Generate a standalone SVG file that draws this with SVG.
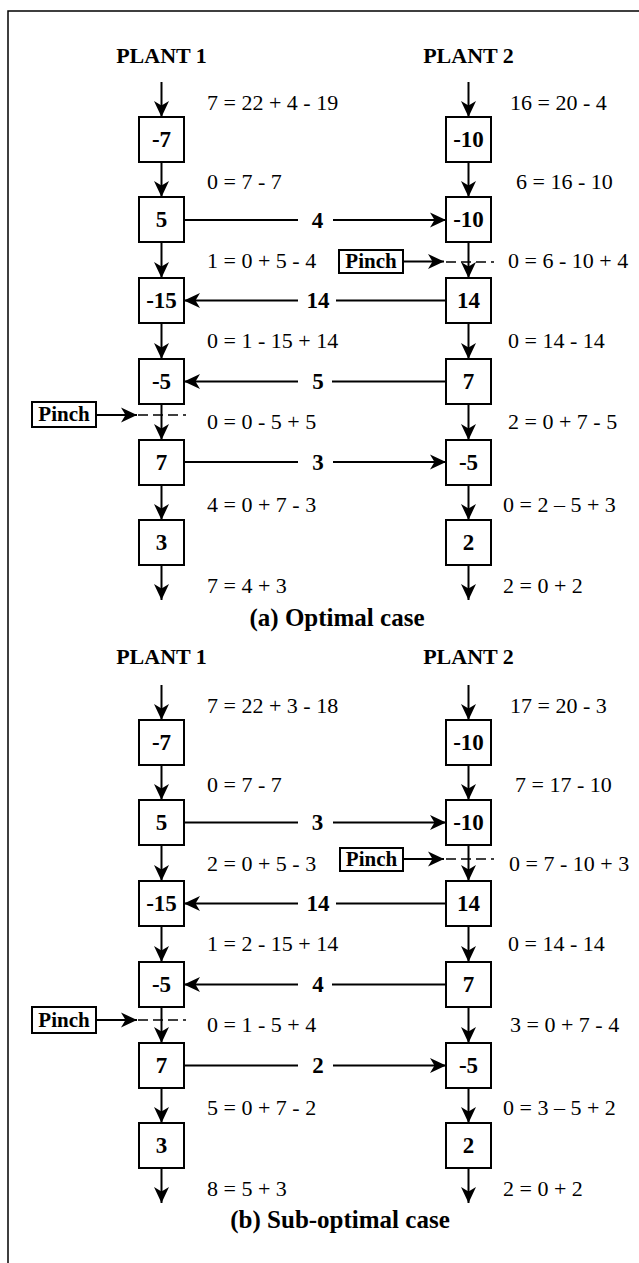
<svg xmlns="http://www.w3.org/2000/svg" width="639" height="1263" viewBox="0 0 639 1263">
<style>
.box{fill:#fff;stroke:#000;stroke-width:2}
.num{font-family:"Liberation Serif",serif;font-weight:bold;font-size:23px;text-anchor:middle;fill:#000}
.eq{font-family:"Liberation Serif",serif;font-size:22px;fill:#000}
.ttl{font-family:"Liberation Serif",serif;font-weight:bold;font-size:22px;text-anchor:middle;fill:#000}
.cap{font-family:"Liberation Serif",serif;font-weight:bold;font-size:25px;text-anchor:middle;fill:#000}
.pin{font-family:"Liberation Serif",serif;font-weight:bold;font-size:21px;text-anchor:middle;fill:#000}
.ln{stroke:#000;stroke-width:2;fill:none}
.arr{stroke:#000;stroke-width:2;fill:none;marker-end:url(#ah)}
.dash{stroke:#000;stroke-width:1.5;fill:none;stroke-dasharray:10 5}
.frame{stroke:#000;stroke-width:1.5;fill:none}
</style>
<defs>
<marker id="ah" viewBox="0 0 16 16" refX="16" refY="8" markerWidth="16" markerHeight="16" markerUnits="userSpaceOnUse" orient="auto">
<path d="M16,8 L0,0.5 L4.5,8 L0,15.5 Z" fill="#000"/>
</marker>
</defs>
<path class="frame" d="M639,11 H8 V1263"/>

<!-- titles -->
<text class="ttl" x="161.5" y="63">PLANT 1</text>
<text class="ttl" x="468.5" y="63">PLANT 2</text>
<text class="ttl" x="161.5" y="664">PLANT 1</text>
<text class="ttl" x="468.5" y="664">PLANT 2</text>
<text class="cap" x="337" y="626">(a) Optimal case</text>
<text class="cap" x="340" y="1228">(b) Sub-optimal case</text>

<!-- Panel (a) nodes -->
<g id="a-p1-n1"><rect class="box" x="139" y="117" width="45" height="45"/><text class="num" x="161.5" y="147">-7</text></g>
<g id="a-p1-n2"><rect class="box" x="139" y="197" width="45" height="45"/><text class="num" x="161.5" y="227">5</text></g>
<g id="a-p1-n3"><rect class="box" x="139" y="278" width="45" height="45"/><text class="num" x="161.5" y="308">-15</text></g>
<g id="a-p1-n4"><rect class="box" x="139" y="359" width="45" height="45"/><text class="num" x="161.5" y="389">-5</text></g>
<g id="a-p1-n5"><rect class="box" x="139" y="440" width="45" height="45"/><text class="num" x="161.5" y="470">7</text></g>
<g id="a-p1-n6"><rect class="box" x="139" y="520" width="45" height="45"/><text class="num" x="161.5" y="550">3</text></g>
<g id="a-p2-n1"><rect class="box" x="446" y="117" width="45" height="45"/><text class="num" x="468.5" y="147">-10</text></g>
<g id="a-p2-n2"><rect class="box" x="446" y="197" width="45" height="45"/><text class="num" x="468.5" y="227">-10</text></g>
<g id="a-p2-n3"><rect class="box" x="446" y="278" width="45" height="45"/><text class="num" x="468.5" y="308">14</text></g>
<g id="a-p2-n4"><rect class="box" x="446" y="359" width="45" height="45"/><text class="num" x="468.5" y="389">7</text></g>
<g id="a-p2-n5"><rect class="box" x="446" y="440" width="45" height="45"/><text class="num" x="468.5" y="470">-5</text></g>
<g id="a-p2-n6"><rect class="box" x="446" y="520" width="45" height="45"/><text class="num" x="468.5" y="550">2</text></g>
<g id="a-pinch1"><rect class="box" x="32" y="402" width="64" height="25"/><text class="pin" x="64" y="421">Pinch</text></g>
<g id="a-pinch2"><rect class="box" x="339" y="250" width="64" height="23"/><text class="pin" x="371" y="268">Pinch</text></g>

<!-- Panel (b) nodes -->
<g id="b-p1-n1"><rect class="box" x="139" y="720" width="45" height="45"/><text class="num" x="161.5" y="750">-7</text></g>
<g id="b-p1-n2"><rect class="box" x="139" y="800" width="45" height="45"/><text class="num" x="161.5" y="830">5</text></g>
<g id="b-p1-n3"><rect class="box" x="139" y="881" width="45" height="45"/><text class="num" x="161.5" y="911">-15</text></g>
<g id="b-p1-n4"><rect class="box" x="139" y="962" width="45" height="45"/><text class="num" x="161.5" y="992">-5</text></g>
<g id="b-p1-n5"><rect class="box" x="139" y="1043" width="45" height="45"/><text class="num" x="161.5" y="1073">7</text></g>
<g id="b-p1-n6"><rect class="box" x="139" y="1123" width="45" height="45"/><text class="num" x="161.5" y="1153">3</text></g>
<g id="b-p2-n1"><rect class="box" x="446" y="720" width="45" height="45"/><text class="num" x="468.5" y="750">-10</text></g>
<g id="b-p2-n2"><rect class="box" x="446" y="800" width="45" height="45"/><text class="num" x="468.5" y="830">-10</text></g>
<g id="b-p2-n3"><rect class="box" x="446" y="881" width="45" height="45"/><text class="num" x="468.5" y="911">14</text></g>
<g id="b-p2-n4"><rect class="box" x="446" y="962" width="45" height="45"/><text class="num" x="468.5" y="992">7</text></g>
<g id="b-p2-n5"><rect class="box" x="446" y="1043" width="45" height="45"/><text class="num" x="468.5" y="1073">-5</text></g>
<g id="b-p2-n6"><rect class="box" x="446" y="1123" width="45" height="45"/><text class="num" x="468.5" y="1153">2</text></g>
<g id="b-pinch1"><rect class="box" x="32" y="1007" width="64" height="26"/><text class="pin" x="64" y="1027">Pinch</text></g>
<g id="b-pinch2"><rect class="box" x="340" y="848" width="63" height="23"/><text class="pin" x="371.5" y="866">Pinch</text></g>

<!-- equations -->
<g id="equations">
<text class="eq" x="207" y="110">7 = 22 + 4 - 19</text>
<text class="eq" x="207" y="189">0 = 7 - 7</text>
<text class="eq" x="207" y="268">1 = 0 + 5 - 4</text>
<text class="eq" x="207" y="348">0 = 1 - 15 + 14</text>
<text class="eq" x="207" y="429">0 = 0 - 5 + 5</text>
<text class="eq" x="207" y="512">4 = 0 + 7 - 3</text>
<text class="eq" x="207" y="593">7 = 4 + 3</text>
<text class="eq" x="510" y="110">16 = 20 - 4</text>
<text class="eq" x="516" y="189">6 = 16 - 10</text>
<text class="eq" x="508" y="268">0 = 6 - 10 + 4</text>
<text class="eq" x="508" y="348">0 = 14 - 14</text>
<text class="eq" x="508" y="429">2 = 0 + 7 - 5</text>
<text class="eq" x="503" y="512">0 = 2 – 5 + 3</text>
<text class="eq" x="503" y="593">2 = 0 + 2</text>
<text class="eq" x="207" y="713">7 = 22 + 3 - 18</text>
<text class="eq" x="207" y="792">0 = 7 - 7</text>
<text class="eq" x="207" y="871">2 = 0 + 5 - 3</text>
<text class="eq" x="207" y="951">1 = 2 - 15 + 14</text>
<text class="eq" x="207" y="1032">0 = 1 - 5 + 4</text>
<text class="eq" x="207" y="1115">5 = 0 + 7 - 2</text>
<text class="eq" x="207" y="1196">8 = 5 + 3</text>
<text class="eq" x="510" y="713">17 = 20 - 3</text>
<text class="eq" x="515" y="792">7 = 17 - 10</text>
<text class="eq" x="509" y="871">0 = 7 - 10 + 3</text>
<text class="eq" x="508" y="951">0 = 14 - 14</text>
<text class="eq" x="510" y="1032">3 = 0 + 7 - 4</text>
<text class="eq" x="503" y="1115">0 = 3 – 5 + 2</text>
<text class="eq" x="503" y="1196">2 = 0 + 2</text>
</g>

<!-- connectors -->
<g id="connectors">
<!-- (a) vertical plant 1 -->
<path class="arr" d="M161.5,82 V117"/>
<path class="arr" d="M161.5,162 V197"/>
<path class="arr" d="M161.5,242 V278"/>
<path class="arr" d="M161.5,323 V359"/>
<path class="arr" d="M161.5,404 V440"/>
<path class="arr" d="M161.5,485 V520"/>
<path class="arr" d="M161.5,565 V600"/>
<!-- (a) vertical plant 2 -->
<path class="arr" d="M468.5,82 V117"/>
<path class="arr" d="M468.5,162 V197"/>
<path class="arr" d="M468.5,242 V278"/>
<path class="arr" d="M468.5,323 V359"/>
<path class="arr" d="M468.5,404 V440"/>
<path class="arr" d="M468.5,485 V520"/>
<path class="arr" d="M468.5,565 V600"/>
<!-- (a) horizontal -->
<path class="ln" d="M184,220 H298"/><text class="num" x="317.5" y="227.5">4</text><path class="arr" d="M333,220 H446"/>
<path class="ln" d="M446,300.5 H336"/><text class="num" x="318" y="308">14</text><path class="arr" d="M298,300.5 H184"/>
<path class="ln" d="M446,381.5 H332"/><text class="num" x="318" y="389">5</text><path class="arr" d="M298,381.5 H184"/>
<path class="ln" d="M184,462 H298"/><text class="num" x="318" y="469.5">3</text><path class="arr" d="M333,462 H446"/>
<!-- (a) pinch -->
<path class="arr" d="M96,415 H137"/>
<path class="dash" d="M138,415 H186"/>
<path class="arr" d="M403,261.5 H444"/>
<path class="dash" d="M446,262 H494"/>

<!-- (b) vertical plant 1 -->
<path class="arr" d="M161.5,685 V720"/>
<path class="arr" d="M161.5,765 V800"/>
<path class="arr" d="M161.5,845 V881"/>
<path class="arr" d="M161.5,926 V962"/>
<path class="arr" d="M161.5,1007 V1043"/>
<path class="arr" d="M161.5,1088 V1123"/>
<path class="arr" d="M161.5,1168 V1203"/>
<!-- (b) vertical plant 2 -->
<path class="arr" d="M468.5,685 V720"/>
<path class="arr" d="M468.5,765 V800"/>
<path class="arr" d="M468.5,845 V881"/>
<path class="arr" d="M468.5,926 V962"/>
<path class="arr" d="M468.5,1007 V1043"/>
<path class="arr" d="M468.5,1088 V1123"/>
<path class="arr" d="M468.5,1168 V1203"/>
<!-- (b) horizontal -->
<path class="ln" d="M184,822.5 H298"/><text class="num" x="317.5" y="830">3</text><path class="arr" d="M333,822.5 H446"/>
<path class="ln" d="M446,903.5 H336"/><text class="num" x="318" y="911">14</text><path class="arr" d="M298,903.5 H184"/>
<path class="ln" d="M446,984.5 H332"/><text class="num" x="318" y="992">4</text><path class="arr" d="M298,984.5 H184"/>
<path class="ln" d="M184,1065.5 H298"/><text class="num" x="318" y="1073">2</text><path class="arr" d="M333,1065.5 H446"/>
<!-- (b) pinch -->
<path class="arr" d="M96,1020 H137"/>
<path class="dash" d="M138,1020 H186"/>
<path class="arr" d="M403,859 H444"/>
<path class="dash" d="M446,859 H494"/>
</g>
</svg>
